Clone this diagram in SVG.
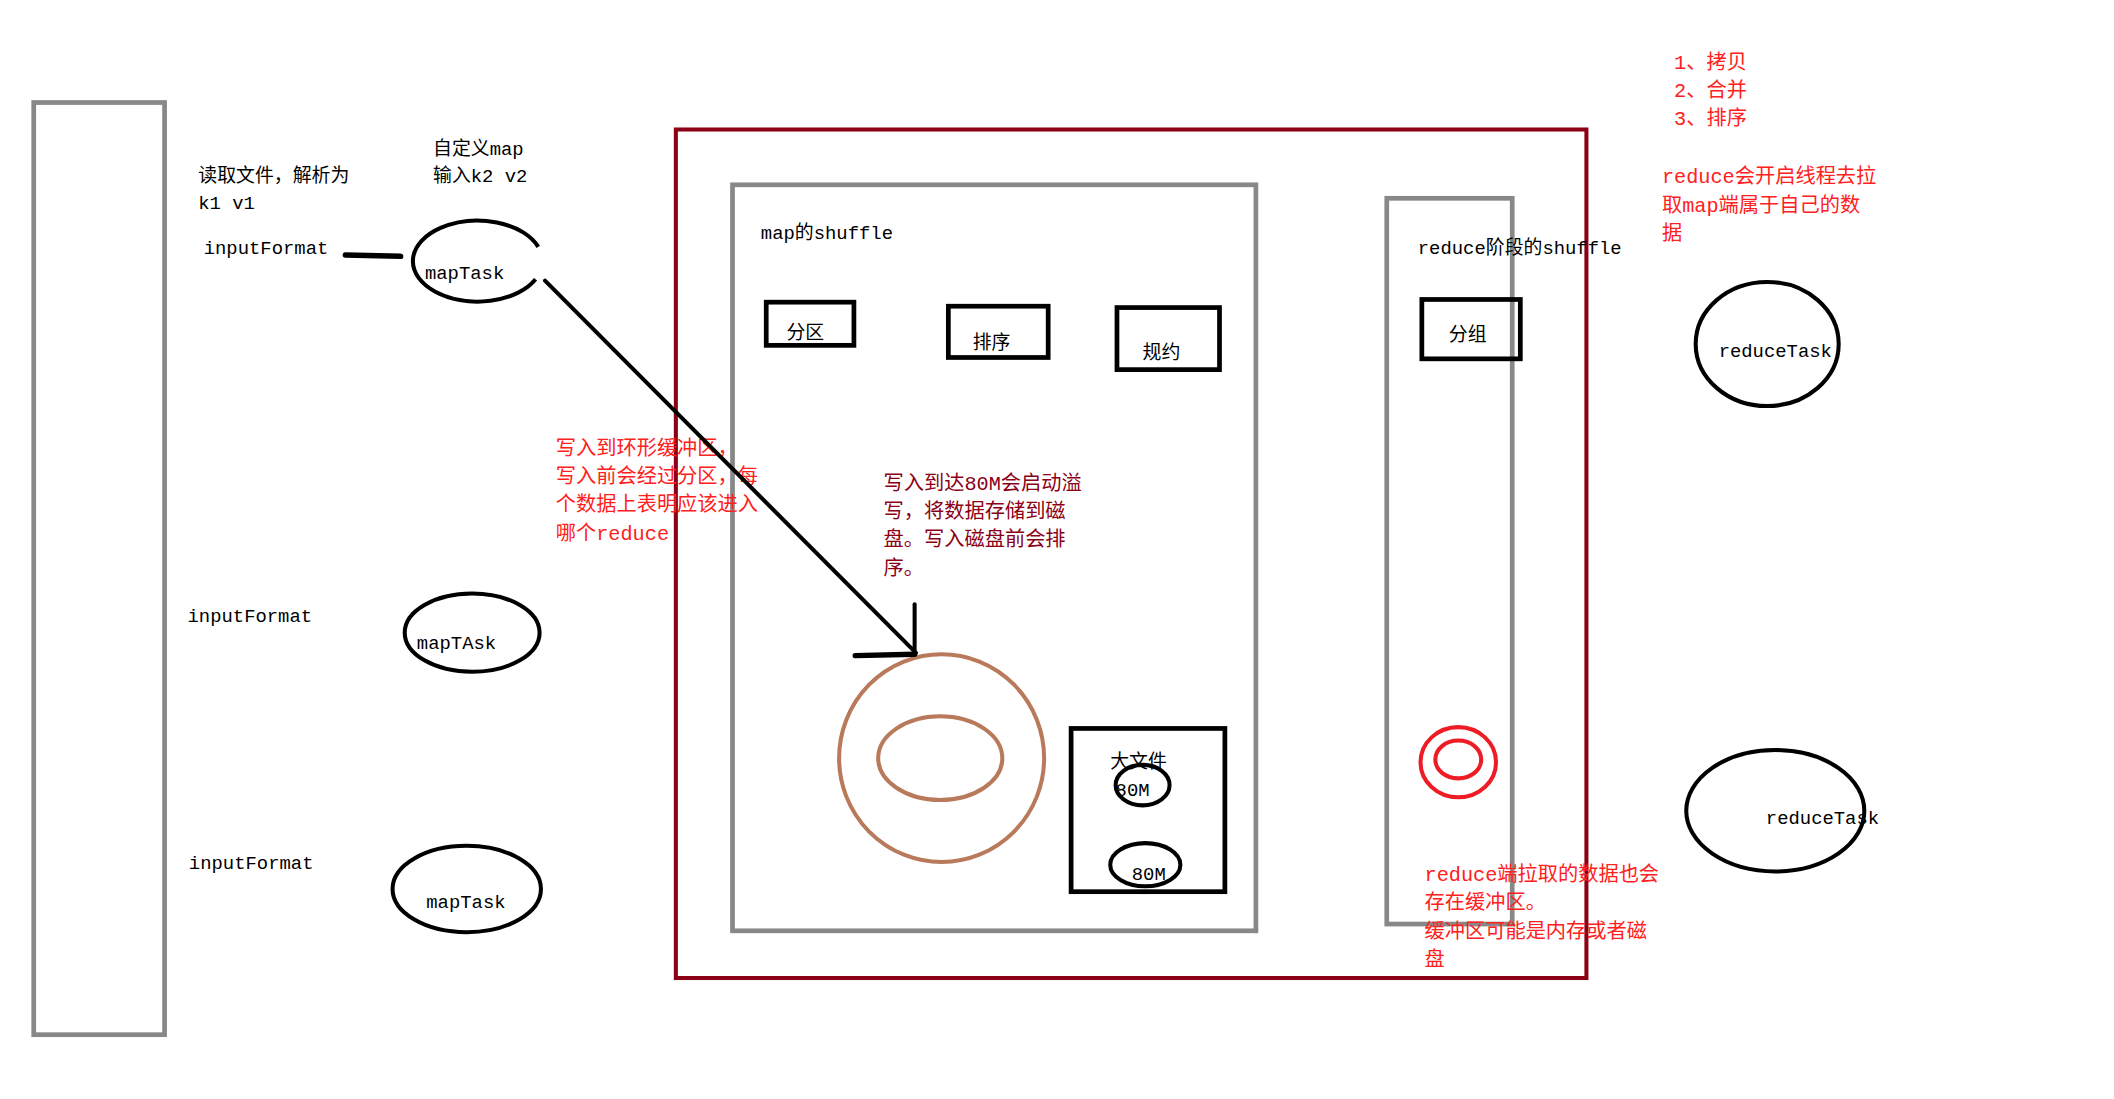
<svg xmlns="http://www.w3.org/2000/svg" width="2114" height="1099" viewBox="0 0 2114 1099">
<style>
text{font-family:"Liberation Mono","Noto Sans CJK SC",monospace;font-size:14px;fill:#000}
.r{fill:#FF2020;font-size:15px}
.d{fill:#8B0015;font-size:15px}
.g{fill:none;stroke:#888;stroke-width:3.5}
.b{fill:none;stroke:#000;stroke-width:3.5}
.e{fill:none;stroke:#000;stroke-width:3}
</style>
<rect width="2114" height="1099" fill="#fff"/>
<g transform="scale(1.349)">
<g id="source"><rect class="g" x="25" y="76" width="97" height="691"/></g>
<g id="labels">
<text x="147" y="135">读取文件，解析为</text><text x="147" y="155">k1 v1</text>
<text x="321" y="115">自定义map</text><text x="321" y="135">输入k2 v2</text>
<text x="151" y="188">inputFormat</text>
<text x="139" y="461">inputFormat</text>
<text x="140" y="644">inputFormat</text>
</g>
<g id="maptask1"><path class="e" d="M399,183 A48,30 0 1 0 397,207"/><text x="315" y="207">mapTask</text></g>
<g id="maptask2"><ellipse class="e" cx="350" cy="469" rx="50" ry="29"/><text x="309" y="481">mapTAsk</text></g>
<g id="maptask3"><ellipse class="e" cx="346" cy="659" rx="55" ry="32"/><text x="316" y="673">mapTask</text></g>
<g id="shuffle-outer"><rect x="501" y="96" width="675" height="629" fill="none" stroke="#8B0015" stroke-width="3"/></g>
<g id="map-shuffle"><rect class="g" x="543" y="137" width="388" height="553"/><text x="564" y="177">map的shuffle</text></g>
<g id="partition"><rect class="b" x="568" y="224" width="65" height="32"/><text x="583" y="251" font-size="15">分区</text></g>
<g id="sort"><rect class="b" x="703" y="227" width="74" height="38"/><text x="721" y="259" font-size="15">排序</text></g>
<g id="combine"><rect class="b" x="828" y="228" width="76" height="46"/><text x="847" y="266" font-size="15">规约</text></g>
<g id="ring-buffer"><ellipse cx="698" cy="562" rx="76" ry="77" fill="none" stroke="#B87A5A" stroke-width="3"/><ellipse cx="697" cy="562" rx="46" ry="31" fill="none" stroke="#B87A5A" stroke-width="3"/></g>
<g id="bigfile"><rect class="b" x="794" y="540" width="114" height="121"/><text x="823" y="569" font-size="15">大文件</text>
<ellipse class="e" cx="847" cy="582" rx="20" ry="15"/><text x="827" y="590">80M</text>
<ellipse class="e" cx="849" cy="641" rx="26" ry="16"/><text x="839" y="652">80M</text></g>
<g id="reduce-shuffle"><rect class="g" x="1028" y="147" width="93" height="538"/><text x="1051" y="188">reduce阶段的shuffle</text></g>
<g id="group"><rect class="b" x="1054" y="222" width="73" height="44"/><text x="1074" y="253" font-size="15">分组</text></g>
<g id="reduce-buffer"><ellipse cx="1081" cy="565" rx="28" ry="26" fill="none" stroke="#EE1C24" stroke-width="3"/><ellipse cx="1081" cy="563" rx="17" ry="14" fill="none" stroke="#EE1C24" stroke-width="3"/></g>
<g id="reducetask1"><ellipse class="e" cx="1310" cy="255" rx="53" ry="46"/><text x="1274" y="265">reduceTask</text></g>
<g id="reducetask2"><ellipse class="e" cx="1316" cy="601" rx="66" ry="45"/><text x="1309" y="611">reduceTask</text></g>
<g id="notes">
<text class="r" x="412" y="337">写入到环形缓冲区，</text><text class="r" x="412" y="358">写入前会经过分区，每</text><text class="r" x="412" y="379">个数据上表明应该进入</text><text class="r" x="412" y="400">哪个reduce</text>
<text class="d" x="655" y="363">写入到达80M会启动溢</text><text class="d" x="655" y="384">写，将数据存储到磁</text><text class="d" x="655" y="405">盘。写入磁盘前会排</text><text class="d" x="655" y="426">序。</text>
<text class="r" x="1056" y="653">reduce端拉取的数据也会</text><text class="r" x="1056" y="674">存在缓冲区。</text><text class="r" x="1056" y="695">缓冲区可能是内存或者磁</text><text class="r" x="1056" y="716">盘</text>
<text class="r" x="1241" y="51">1、拷贝</text><text class="r" x="1241" y="72">2、合并</text><text class="r" x="1241" y="93">3、排序</text>
<text class="r" x="1232" y="136">reduce会开启线程去拉</text><text class="r" x="1232" y="157">取map端属于自己的数</text><text class="r" x="1232" y="178">据</text>
</g>
<g id="connectors" stroke="#000" fill="none" stroke-linecap="round">
<line x1="256" y1="189" x2="297" y2="190" stroke-width="4"/>
<line x1="404" y1="208" x2="679" y2="484" stroke-width="3"/>
<line x1="678" y1="448" x2="678" y2="485" stroke-width="3"/>
<line x1="634" y1="486" x2="678" y2="485" stroke-width="4"/>
</g>
</g>
</svg>
